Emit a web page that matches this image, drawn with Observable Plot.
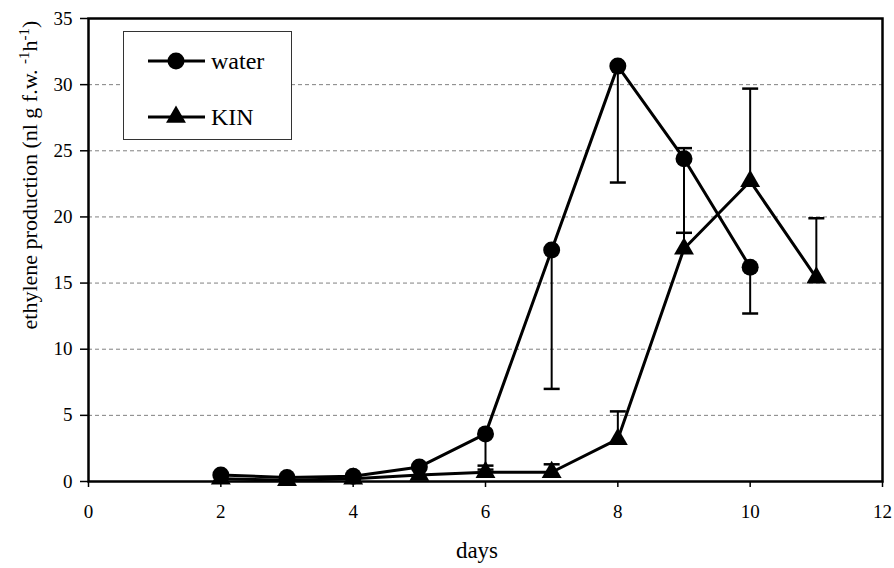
<!DOCTYPE html>
<html>
<head>
<meta charset="utf-8">
<script src="https://cdn.jsdelivr.net/npm/d3@7"></script>
<script src="https://cdn.jsdelivr.net/npm/@observablehq/plot@0.6"></script>
<style>
  html, body { margin: 0; padding: 0; background: #fff; }
  #chart { position: relative; width: 894px; height: 568px; }
</style>
</head>
<body>
<div id="chart"></div>
<script>
// ---- data ----
const waterDays = [2, 3, 4, 5, 6, 7, 8, 9, 10];
const waterVals = [0.5, 0.3, 0.4, 1.1, 3.6, 17.5, 31.4, 24.4, 16.2];
const waterLow  = [null, null, null, null, 0.9, 7.0, 22.6, 18.8, 12.7];

const kinDays = [2, 3, 4, 5, 6, 7, 8, 9, 10, 11];
const kinVals = [0.2, 0.1, 0.2, 0.5, 0.7, 0.7, 3.2, 17.6, 22.7, 15.4];
const kinHigh = [null, null, null, null, 1.2, 1.3, 5.3, 25.2, 29.7, 19.9];

const xTicks = [0, 2, 4, 6, 8, 10, 12];
const yTicks = [0, 5, 10, 15, 20, 25, 30, 35];
const gridVals = [5, 10, 15, 20, 25, 30];

const seriesNames = ["water", "KIN"];
const xTitle = "days";

// ---- tables ----
const water = waterDays.map((d, i) => ({day: d, v: waterVals[i], e: waterLow[i]}));
const kin = kinDays.map((d, i) => ({day: d, v: kinVals[i], e: kinHigh[i]}));
const waterErr = water.filter(d => d.e != null);
const kinErr = kin.filter(d => d.e != null);

// horizontal cap symbol for error bars
const capSymbol = {
  draw(ctx, size) {
    const w = Math.sqrt(size / Math.PI);
    ctx.moveTo(-w, 0);
    ctx.lineTo(w, 0);
  }
};

const font = "Liberation Serif";

const plot = Plot.plot({
  width: 894,
  height: 568,
  marginLeft: 88,
  marginRight: 12,
  marginTop: 18,
  marginBottom: 87,
  style: {fontFamily: font, fontSize: "19px", color: "#000", background: "#fff"},
  x: {domain: [0, 12]},
  y: {domain: [0, 35]},
  marks: [
    Plot.ruleY(gridVals, {stroke: "#808080", strokeWidth: 1, strokeDasharray: "4,3"}),
    Plot.axisY({ticks: yTicks, tickSize: 8, tickPadding: 8, label: null, stroke: "#000", strokeWidth: 1.5, fontSize: 19}),
    Plot.axisX({ticks: xTicks, tickSize: 6, tickPadding: 17, label: null, stroke: "#000", strokeWidth: 1.5, fontSize: 19}),
    // error bars
    Plot.ruleX(kinErr, {x: "day", y1: "v", y2: "e", stroke: "#000", strokeWidth: 2}),
    Plot.dot(kinErr, {x: "day", y: "e", symbol: capSymbol, r: 8, stroke: "#000", strokeWidth: 2.5, fill: "none"}),
    Plot.ruleX(waterErr, {x: "day", y1: "v", y2: "e", stroke: "#000", strokeWidth: 2}),
    Plot.dot(waterErr, {x: "day", y: "e", symbol: capSymbol, r: 8, stroke: "#000", strokeWidth: 2.5, fill: "none"}),
    // series
    Plot.line(kin, {x: "day", y: "v", stroke: "#000", strokeWidth: 3}),
    Plot.dot(kin, {x: "day", y: "v", symbol: "triangle", r: 7.4, fill: "#000", stroke: "none"}),
    Plot.line(water, {x: "day", y: "v", stroke: "#000", strokeWidth: 3}),
    Plot.dot(water, {x: "day", y: "v", symbol: "circle", r: 8.5, fill: "#000", stroke: "none"}),
    Plot.frame({stroke: "#000", strokeWidth: 2.5})
  ]
});

document.getElementById("chart").appendChild(plot);

// ---- titles and legend ----
const svg = d3.select(plot);

// y title with superscripts
const yt = svg.append("text")
  .attr("transform", "translate(37,175) rotate(-90)")
  .attr("text-anchor", "middle")
  .attr("font-size", 22)
  .attr("fill", "#000");
yt.append("tspan").text("ethylene production (nl g f.w. ");
yt.append("tspan").attr("dy", -8).attr("font-size", 15).text("-1");
yt.append("tspan").attr("dy", 8).text("h");
yt.append("tspan").attr("dy", -8).attr("font-size", 15).text("-1");
yt.append("tspan").attr("dy", 8).text(")");

// x title
svg.append("text")
  .attr("x", 477).attr("y", 558)
  .attr("text-anchor", "middle")
  .attr("font-size", 23)
  .attr("fill", "#000")
  .text(xTitle);

// legend box
const lg = svg.append("g");
lg.append("rect").attr("x", 123.5).attr("y", 31.5).attr("width", 168).attr("height", 108)
  .attr("fill", "#fff").attr("stroke", "#333").attr("stroke-width", 1);
const rows = [{name: seriesNames[0], y: 61, sym: "circle"}, {name: seriesNames[1], y: 117, sym: "triangle"}];
rows.forEach(r => {
  lg.append("line").attr("x1", 148).attr("x2", 205).attr("y1", r.y).attr("y2", r.y)
    .attr("stroke", "#000").attr("stroke-width", 3);
  if (r.sym === "circle") {
    lg.append("circle").attr("cx", 176).attr("cy", r.y).attr("r", 8.5).attr("fill", "#000");
  } else {
    lg.append("path").attr("transform", `translate(176,${r.y})`)
      .attr("d", d3.symbol(d3.symbolTriangle, Math.PI * 7.4 * 7.4)()).attr("fill", "#000");
  }
  lg.append("text").attr("x", 211).attr("y", r.y + 8)
    .attr("text-anchor", "start")
    .attr("font-size", 24).attr("fill", "#000")
    .text(r.name);
});

// force the serif face on every text element
svg.attr("font-family", font).style("font-family", "'Liberation Serif'");
svg.selectAll("text, tspan").attr("font-family", font).style("font-family", "'Liberation Serif'");
svg.selectAll("g").style("font-family", "'Liberation Serif'");
</script>
</body>
</html>
